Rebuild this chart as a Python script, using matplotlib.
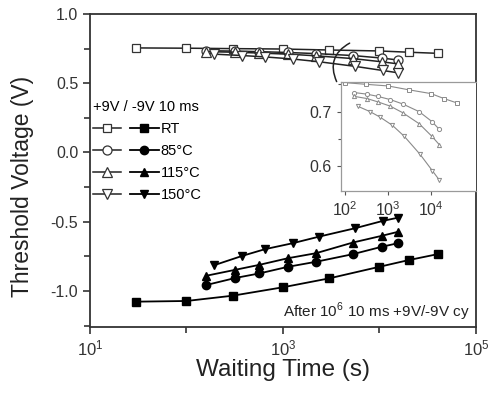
import matplotlib
matplotlib.use('Agg')
import matplotlib.pyplot as plt
from matplotlib.legend_handler import HandlerTuple
from matplotlib.ticker import FixedLocator, MultipleLocator, NullFormatter, LogFormatterMathtext

plt.rcParams['font.family'] = ['Liberation Sans', 'DejaVu Sans']
plt.rcParams['mathtext.fontset'] = 'custom'
plt.rcParams['mathtext.rm'] = 'Liberation Sans'

# waiting times (s) for each temperature
t_rt = [30, 100, 300, 1000, 3000, 10000, 20000, 40000]
t_85 = [160, 320, 570, 1130, 2200, 5300, 10500, 15500]
t_115 = [160, 320, 570, 1130, 2200, 5300, 10500, 15500]
t_150 = [195, 380, 650, 1260, 2380, 5570, 10800, 15700]

# threshold voltage after +9V program (open) and -9V erase (filled)
vth_prog_rt = [0.755, 0.753, 0.750, 0.747, 0.740, 0.733, 0.724, 0.716]
vth_prog_85 = [0.735, 0.732, 0.728, 0.722, 0.714, 0.700, 0.682, 0.668]
vth_prog_115 = [0.728, 0.724, 0.718, 0.710, 0.698, 0.678, 0.655, 0.640]
vth_prog_150 = [0.710, 0.700, 0.690, 0.675, 0.655, 0.622, 0.592, 0.575]

vth_erase_rt = [-1.077, -1.072, -1.034, -0.973, -0.909, -0.825, -0.777, -0.734]
vth_erase_85 = [-0.957, -0.906, -0.873, -0.825, -0.789, -0.734, -0.681, -0.655]
vth_erase_115 = [-0.890, -0.847, -0.811, -0.763, -0.727, -0.650, -0.602, -0.573]
vth_erase_150 = [-0.813, -0.746, -0.698, -0.655, -0.607, -0.547, -0.494, -0.470]

labels = ['RT', '85°C', '115°C', '150°C']
markers = ['s', 'o', '^', 'v']
times = [t_rt, t_85, t_115, t_150]
prog = [vth_prog_rt, vth_prog_85, vth_prog_115, vth_prog_150]
erase = [vth_erase_rt, vth_erase_85, vth_erase_115, vth_erase_150]

fig = plt.figure(figsize=(4.88, 3.94), dpi=100)
ax = fig.add_axes([0.1844, 0.170, 0.791, 0.7945])

handles = []
for t, vp, ve, m, lab in zip(times, prog, erase, markers, labels):
    ms = 6 if m == 's' else 6.5
    h1, = ax.plot(t, vp, color='#222222', lw=1.1, marker=m, ms=ms,
                  mfc='white', mec='#333333', mew=0.9)
    h2, = ax.plot(t, ve, color='black', lw=1.3, marker=m, ms=ms - 0.5,
                  mfc='black', mec='black')
    handles.append((h1, h2))

ax.set_xscale('log')
ax.set_xlim(10, 1e5)
ax.set_ylim(-1.26, 1.0)
ax.xaxis.set_major_locator(FixedLocator([1e1, 1e3, 1e5]))
ax.xaxis.set_major_formatter(LogFormatterMathtext())
ax.xaxis.set_minor_locator(FixedLocator([1e2, 1e4]))
ax.xaxis.set_minor_formatter(NullFormatter())
ax.yaxis.set_major_locator(MultipleLocator(0.5))
ax.yaxis.set_minor_locator(MultipleLocator(0.25))
ax.yaxis.set_major_formatter(plt.FormatStrFormatter('%.1f'))
ax.tick_params(which='both', direction='out', top=False, right=False,
               labelsize=11.5, colors='#333333', width=1.2)
ax.tick_params(axis='x', labelsize=12)
ax.tick_params(which='major', length=5)
ax.tick_params(which='minor', length=4)
for s in ax.spines.values():
    s.set_linewidth(1.3)
    s.set_color('#333333')
ax.set_xlabel('Waiting Time (s)', fontsize=17.5, color='#222222', labelpad=0)
ax.set_ylabel('Threshold Voltage (V)', fontsize=16.5, color='#222222')
ax.yaxis.set_label_coords(-0.145, 0.45)

leg = ax.legend(handles, labels, handler_map={tuple: HandlerTuple(ndivide=None, pad=0.6)},
                loc='upper left', bbox_to_anchor=(-0.015, 0.752), frameon=False,
                title='+9V / -9V 10 ms', title_fontsize=10.5, fontsize=10.5,
                handlelength=4.5, handletextpad=0.15, labelspacing=0.55,
                borderaxespad=0.2)
leg._legend_box.align = 'left'

ax.text(0.985, 0.012, 'After 10$^6$ 10 ms +9V/-9V cy', transform=ax.transAxes,
        ha='right', va='bottom', fontsize=11, color='#222222')

# curved pointer from the program-state curves to the zoomed inset
ax.annotate('', xy=(0.642, 0.776), xytext=(0.679, 0.911), xycoords='axes fraction',
            arrowprops=dict(arrowstyle='-', color='#222222', lw=1.1,
                            connectionstyle='arc3,rad=0.5'))

# inset with the program-state retention on a fine scale
ins = fig.add_axes([0.699, 0.515, 0.2764, 0.278])
for t, vp, m in zip(times, prog, markers):
    ins.plot(t, vp, color='#8a8a8a', lw=0.8, marker=m, ms=3,
             mfc='white', mec='#8a8a8a', mew=0.7)
ins.set_xscale('log')
ins.set_xlim(80, 1.12e5)
ins.set_ylim(0.555, 0.755)
ins.xaxis.set_major_locator(FixedLocator([1e2, 1e3, 1e4]))
ins.xaxis.set_major_formatter(LogFormatterMathtext())
ins.xaxis.set_minor_locator(plt.NullLocator())
ins.yaxis.set_major_locator(MultipleLocator(0.1))
ins.yaxis.set_minor_locator(MultipleLocator(0.05))
ins.yaxis.set_major_formatter(plt.FormatStrFormatter('%.1f'))
ins.tick_params(which='both', direction='out', top=False, right=False,
                labelsize=11.5, colors='#555555', labelcolor='#333333', width=0.8)
ins.tick_params(which='major', length=3)
ins.tick_params(which='minor', length=2)
for s in ins.spines.values():
    s.set_color('#9a9a9a')
    s.set_linewidth(0.9)
ins.spines['right'].set_visible(False)

fig.savefig('out.png', dpi=100)
